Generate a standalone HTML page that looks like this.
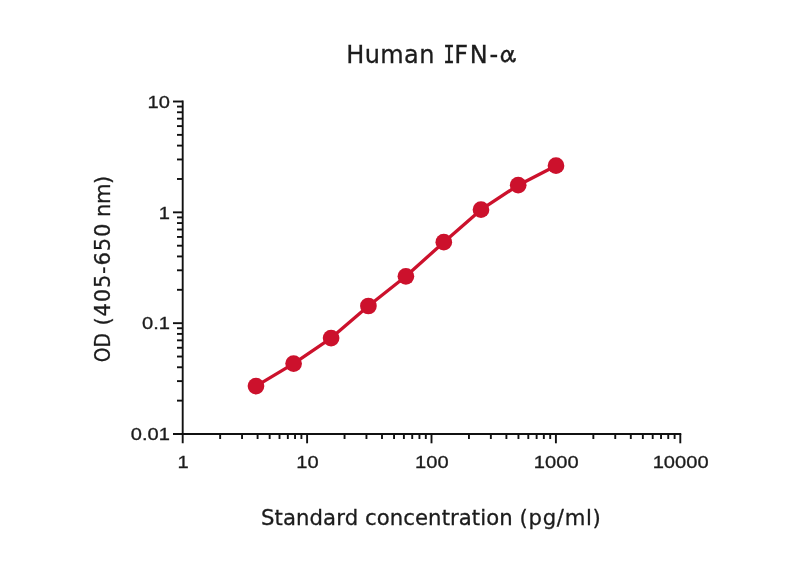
<!DOCTYPE html>
<html><head><meta charset="utf-8"><title>Human IFN-α</title>
<style>
html,body{margin:0;padding:0;background:#fff;}
body{width:800px;height:565px;overflow:hidden;}
svg{display:block;}
.t{font-family:"DejaVu Sans","Liberation Sans",sans-serif;fill:#1c1c1c;stroke:#1c1c1c;stroke-width:0.3px;}
.k{font-family:"Liberation Sans",sans-serif;font-size:16.7px;fill:#1c1c1c;stroke:#1c1c1c;stroke-width:0.3px;}
</style></head><body>
<svg width="800" height="565" viewBox="0 0 800 565">
<rect width="800" height="565" fill="#fff"/>
<g stroke="#111" stroke-width="1.9" fill="none" stroke-linecap="butt">
<path d="M182.70 100.56 V443.3"/>
<path d="M173 434.00 H681.25"/>
<path d="M177 400.64 H182.70"/>
<path d="M177 381.12 H182.70"/>
<path d="M177 367.27 H182.70"/>
<path d="M177 356.53 H182.70"/>
<path d="M177 347.76 H182.70"/>
<path d="M177 340.34 H182.70"/>
<path d="M177 333.91 H182.70"/>
<path d="M177 328.24 H182.70"/>
<path d="M173 323.17 H182.70"/>
<path d="M177 289.81 H182.70"/>
<path d="M177 270.29 H182.70"/>
<path d="M177 256.44 H182.70"/>
<path d="M177 245.70 H182.70"/>
<path d="M177 236.93 H182.70"/>
<path d="M177 229.51 H182.70"/>
<path d="M177 223.08 H182.70"/>
<path d="M177 217.41 H182.70"/>
<path d="M173 212.34 H182.70"/>
<path d="M177 178.98 H182.70"/>
<path d="M177 159.46 H182.70"/>
<path d="M177 145.61 H182.70"/>
<path d="M177 134.87 H182.70"/>
<path d="M177 126.10 H182.70"/>
<path d="M177 118.68 H182.70"/>
<path d="M177 112.25 H182.70"/>
<path d="M177 106.58 H182.70"/>
<path d="M173 101.51 H182.70"/>
<path d="M220.15 434.00 V439"/>
<path d="M242.05 434.00 V439"/>
<path d="M257.60 434.00 V439"/>
<path d="M269.65 434.00 V439"/>
<path d="M279.50 434.00 V439"/>
<path d="M287.83 434.00 V439"/>
<path d="M295.04 434.00 V439"/>
<path d="M301.41 434.00 V439"/>
<path d="M307.10 434.00 V443.3"/>
<path d="M344.55 434.00 V439"/>
<path d="M366.45 434.00 V439"/>
<path d="M382.00 434.00 V439"/>
<path d="M394.05 434.00 V439"/>
<path d="M403.90 434.00 V439"/>
<path d="M412.23 434.00 V439"/>
<path d="M419.44 434.00 V439"/>
<path d="M425.81 434.00 V439"/>
<path d="M431.50 434.00 V443.3"/>
<path d="M468.95 434.00 V439"/>
<path d="M490.85 434.00 V439"/>
<path d="M506.40 434.00 V439"/>
<path d="M518.45 434.00 V439"/>
<path d="M528.30 434.00 V439"/>
<path d="M536.63 434.00 V439"/>
<path d="M543.84 434.00 V439"/>
<path d="M550.21 434.00 V439"/>
<path d="M555.90 434.00 V443.3"/>
<path d="M593.35 434.00 V439"/>
<path d="M615.25 434.00 V439"/>
<path d="M630.80 434.00 V439"/>
<path d="M642.85 434.00 V439"/>
<path d="M652.70 434.00 V439"/>
<path d="M661.03 434.00 V439"/>
<path d="M668.24 434.00 V439"/>
<path d="M674.61 434.00 V439"/>
<path d="M680.30 434.00 V443.3"/>
</g>
<text class="k" transform="translate(170 107.7) scale(1.205 1)" text-anchor="end">10</text>
<text class="k" transform="translate(170 218.5) scale(1.205 1)" text-anchor="end">1</text>
<text class="k" transform="translate(170 329.4) scale(1.205 1)" text-anchor="end">0.1</text>
<text class="k" transform="translate(170 440.2) scale(1.205 1)" text-anchor="end">0.01</text>
<text class="k" transform="translate(183.0 467.5) scale(1.205 1)" text-anchor="middle">1</text>
<text class="k" transform="translate(307.4 467.5) scale(1.205 1)" text-anchor="middle">10</text>
<text class="k" transform="translate(431.8 467.5) scale(1.205 1)" text-anchor="middle">100</text>
<text class="k" transform="translate(556.2 467.5) scale(1.205 1)" text-anchor="middle">1000</text>
<text class="k" transform="translate(680.6 467.5) scale(1.205 1)" text-anchor="middle">10000</text>
<text class="t" x="346.2" y="62.8" font-size="24" letter-spacing="0.4">Human </text><text class="t" transform="translate(449 62.8) scale(0.8 1)" text-anchor="middle" font-size="24" style="font-family:'DejaVu Sans Mono','Liberation Mono',monospace">I</text><text class="t" x="454.3" y="62.8" font-size="24" letter-spacing="1.75">FN-</text><text transform="translate(497.2 63.3) skewX(11)" font-size="24.2" font-family="IPAGothic,'Liberation Sans',sans-serif" fill="#1c1c1c" stroke="#1c1c1c" stroke-width="0.35">α</text>
<text class="t" y="524.8" font-size="21.2"><tspan x="260.9" letter-spacing="0.12">Standard</tspan> <tspan x="365" letter-spacing="0.08">concentration</tspan> <tspan x="519.6" letter-spacing="0.7">(pg/ml)</tspan></text>
<g transform="translate(110 0) rotate(-90)" font-size="21.2"><text class="t" transform="translate(-362.2 0) scale(0.88 1)">OD </text><text class="t" x="-325.6" letter-spacing="0.75">(405-650 </text><text class="t" x="-217" letter-spacing="-0.5">nm)</text></g>
<path d="M256.0 386.1 L293.6 363.6 L331.1 338.1 L368.4 306.0 L405.9 276.3 L443.8 242.2 L481.0 209.7 L518.2 185.2 L556.0 165.7" stroke="#cc112c" stroke-width="3.3" fill="none" stroke-linejoin="round"/>
<circle cx="256.0" cy="386.1" r="8.35" fill="#cc112c"/>
<circle cx="293.6" cy="363.6" r="8.35" fill="#cc112c"/>
<circle cx="331.1" cy="338.1" r="8.35" fill="#cc112c"/>
<circle cx="368.4" cy="306.0" r="8.35" fill="#cc112c"/>
<circle cx="405.9" cy="276.3" r="8.35" fill="#cc112c"/>
<circle cx="443.8" cy="242.2" r="8.35" fill="#cc112c"/>
<circle cx="481.0" cy="209.7" r="8.35" fill="#cc112c"/>
<circle cx="518.2" cy="185.2" r="8.35" fill="#cc112c"/>
<circle cx="556.0" cy="165.7" r="8.35" fill="#cc112c"/>
</svg></body></html>
